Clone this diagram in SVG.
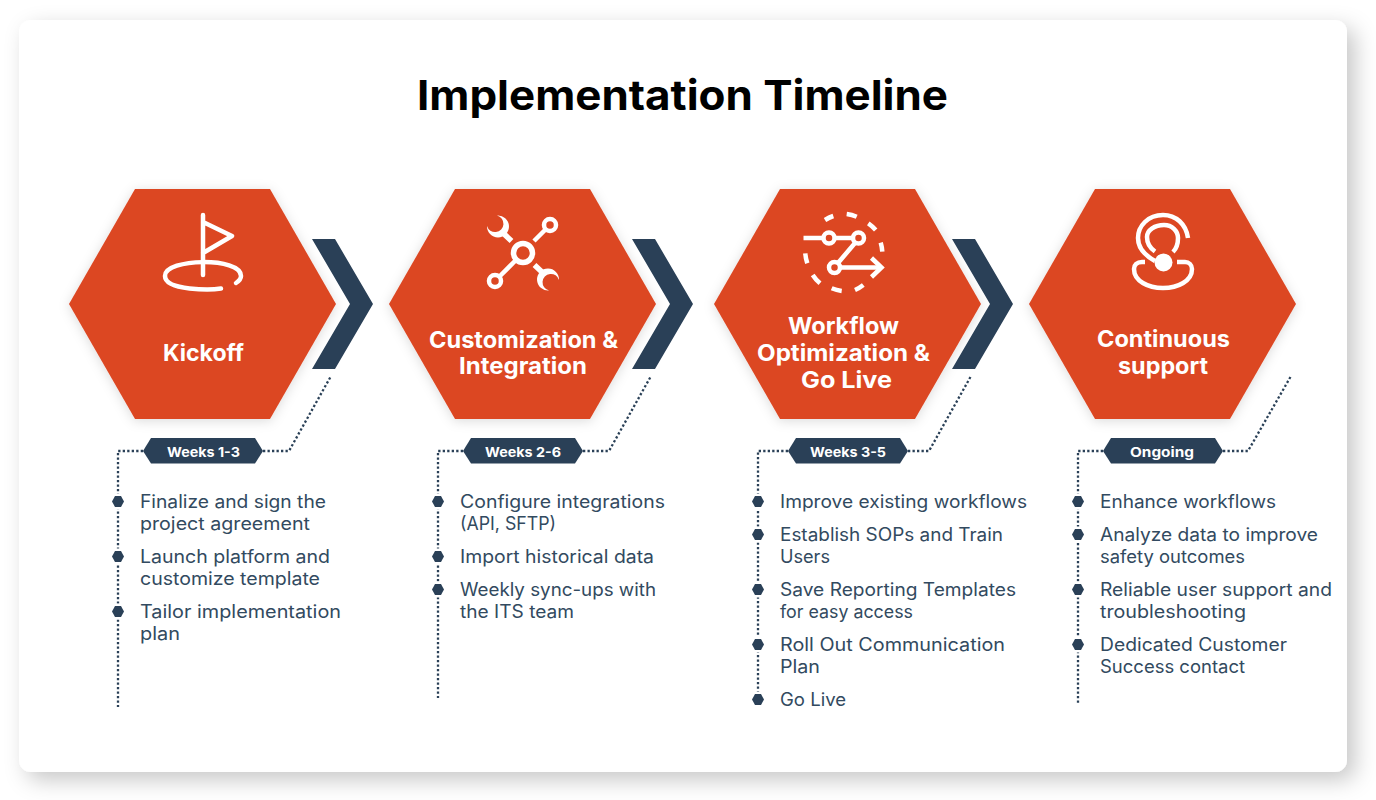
<svg xmlns="http://www.w3.org/2000/svg" width="1376" height="800" viewBox="0 0 1376 800">
<style>
text{font-family:Inter,"Open Sans","Liberation Sans",sans-serif}
.title{font-size:41px;font-weight:700;fill:#000}
.head{font-size:23px;font-weight:700;fill:#fff;text-anchor:start}
.badge{font-size:13.5px;font-weight:700;fill:#fff}
.body{font-size:18px;font-weight:400;fill:#324a60}
.hex{fill:#dc4723;filter:url(#hs)}
.chev,.bt{fill:#2a4057}
.bul{fill:#2a4057;stroke:#fff;stroke-width:5;paint-order:stroke}
.dot{fill:none;stroke:#2a4057;stroke-width:2.300;stroke-dasharray:2.300 2.200}
.ic{fill:none;stroke:#fff;stroke-width:4.500;stroke-linecap:round;stroke-linejoin:round}
.ib{fill:none;stroke:#fff;stroke-width:4.500;stroke-linecap:butt}
.ih{fill:none;stroke:#fff;stroke-width:5.500;stroke-linecap:butt}
</style>
<defs>
<filter id="cs" x="-5%" y="-5%" width="110%" height="110%"><feDropShadow dx="8" dy="8" stdDeviation="11" flood-color="#000" flood-opacity="0.22"/></filter>
<filter id="hs" x="-15%" y="-15%" width="130%" height="130%"><feDropShadow dx="0" dy="2" stdDeviation="6" flood-color="#000" flood-opacity="0.14"/></filter>
<polygon id="h" points="69,304 135,189 270,189 336,304 270,419 135,419"/>
<polygon id="c" points="312,239 335,239 373,304 335,369 312,369 350,304"/>
<polygon id="b" points="143,451 151,438 255,438 263,451 255,463.500 151,463.500"/>
<polygon id="d" points="112,501.500 115,496 121,496 124,501.500 121,507 115,507"/>
</defs>
<rect x="19" y="20" width="1328" height="752" rx="12" fill="#fff" filter="url(#cs)"/>
<text id="title" class="title" x="417" y="110" textLength="531" lengthAdjust="spacingAndGlyphs">Implementation Timeline</text>

<g id="connectors">
<path class="dot" d="M143 451H118V707M263 451H289L331 376"/>
<path class="dot" d="M463 451H438V698M583 451H609L651 376"/>
<path class="dot" d="M788 451H758V709M908 451H929L971 376"/>
<path class="dot" d="M1103 451H1078V703M1223 451H1248L1291 376"/>
</g>

<g id="node-kickoff">
<use href="#h" class="hex"/><use href="#c" class="chev"/>
<path class="ic" d="M203 215V275M203 222L232 236L203 253"/>
<path class="ic" d="M221 288.500C212 290 165 291 165 276C165 258 241 257 241 276C241 279 239 281 236 283"/>
<text class="head" x="163" y="361" textLength="81" lengthAdjust="spacingAndGlyphs">Kickoff</text>
<use href="#b" class="bt"/><text class="badge" x="167" y="457" textLength="73" lengthAdjust="spacingAndGlyphs">Weeks 1-3</text>
<use href="#d" class="bul"/><use href="#d" class="bul" y="55"/><use href="#d" class="bul" y="110"/>
<text class="body" x="140" y="507.500" textLength="186" lengthAdjust="spacingAndGlyphs">Finalize and sign the</text>
<text class="body" x="140" y="529.500" textLength="170" lengthAdjust="spacingAndGlyphs">project agreement</text>
<text class="body" x="140" y="562.500" textLength="190" lengthAdjust="spacingAndGlyphs">Launch platform and</text>
<text class="body" x="140" y="584.500" textLength="180" lengthAdjust="spacingAndGlyphs">customize template</text>
<text class="body" x="140" y="617.500" textLength="201" lengthAdjust="spacingAndGlyphs">Tailor implementation</text>
<text class="body" x="140" y="639.500" textLength="40" lengthAdjust="spacingAndGlyphs">plan</text>
</g>

<g id="node-customization">
<use href="#h" class="hex" x="320"/><use href="#c" class="chev" x="320"/>
<circle class="ih" cx="523" cy="253" r="9.500"/>
<circle class="ib" cx="495" cy="281" r="6"/><circle class="ib" cx="550" cy="225" r="6"/>
<path class="ib" d="M516 260L499 277M545.500 229.500L534 241"/>
<g id="wrenches" fill="#fff">
<path d="M497 215.500A11 11 0 1 1 487 226A8.400 8.400 0 1 0 497 215.500Z"/>
<path d="M549 290.500A11 11 0 1 1 559 280A8.400 8.400 0 1 0 549 290.500Z"/>
</g>
<path class="ih" d="M503 233L511.500 241M543 273L534.500 265"/>
<text class="head" x="429" y="347.500" textLength="189" lengthAdjust="spacingAndGlyphs">Customization &amp;</text>
<text class="head" x="459" y="374" textLength="128" lengthAdjust="spacingAndGlyphs">Integration</text>
<use href="#b" class="bt" x="320"/><text class="badge" x="485" y="457" textLength="76" lengthAdjust="spacingAndGlyphs">Weeks 2-6</text>
<use href="#d" class="bul" x="320"/><use href="#d" class="bul" x="320" y="55"/><use href="#d" class="bul" x="320" y="88"/>
<text class="body" x="460" y="507.500" textLength="205" lengthAdjust="spacingAndGlyphs">Configure integrations</text>
<text class="body" x="460" y="529.500" textLength="96" lengthAdjust="spacingAndGlyphs">(API, SFTP)</text>
<text class="body" x="460" y="562.500" textLength="194" lengthAdjust="spacingAndGlyphs">Import historical data</text>
<text class="body" x="460" y="595.500" textLength="196" lengthAdjust="spacingAndGlyphs">Weekly sync-ups with</text>
<text class="body" x="460" y="617.500" textLength="114" lengthAdjust="spacingAndGlyphs">the ITS team</text>
</g>

<g id="node-workflow">
<use href="#h" class="hex" x="645"/><use href="#c" class="chev" x="640"/>
<path class="ib" d="M825 220A38 38 0 0 1 833.300 216M846.700 214A38 38 0 0 1 856.700 216.700M868.300 223.300A38 38 0 0 1 875.700 230M880.700 242.700A38 38 0 0 1 882.300 251.700M807.300 263.300A38 38 0 0 1 805.300 253.300M820 283.300A38 38 0 0 1 812.700 275M841.700 291A38 38 0 0 1 831.700 288.300M863.300 285A38 38 0 0 1 855 290"/>
<circle class="ib" cx="829" cy="238" r="5.500"/><circle class="ib" cx="858.500" cy="238" r="5.500"/><circle class="ib" cx="834.500" cy="267.500" r="5.500"/>
<path class="ib" d="M803.500 238H823.500M834.500 238H853M855 243L838 263M840 267.500H881"/>
<path class="ib" d="M871.500 258L881.500 267.500L871.500 277"/>
<text class="head" x="788" y="334" textLength="111" lengthAdjust="spacingAndGlyphs">Workflow</text>
<text class="head" x="757" y="361" textLength="173" lengthAdjust="spacingAndGlyphs">Optimization &amp;</text>
<text class="head" x="801" y="388" textLength="91" lengthAdjust="spacingAndGlyphs">Go Live</text>
<use href="#b" class="bt" x="645"/><text class="badge" x="810" y="457" textLength="76" lengthAdjust="spacingAndGlyphs">Weeks 3-5</text>
<use href="#d" class="bul" x="640"/><use href="#d" class="bul" x="640" y="33"/><use href="#d" class="bul" x="640" y="88"/><use href="#d" class="bul" x="640" y="143"/><use href="#d" class="bul" x="640" y="198"/>
<text class="body" x="780" y="507.500" textLength="247" lengthAdjust="spacingAndGlyphs">Improve existing workflows</text>
<text class="body" x="780" y="540.500" textLength="223" lengthAdjust="spacingAndGlyphs">Establish SOPs and Train</text>
<text class="body" x="780" y="562.500" textLength="50" lengthAdjust="spacingAndGlyphs">Users</text>
<text class="body" x="780" y="595.500" textLength="236" lengthAdjust="spacingAndGlyphs">Save Reporting Templates</text>
<text class="body" x="780" y="617.500" textLength="133" lengthAdjust="spacingAndGlyphs">for easy access</text>
<text class="body" x="780" y="650.500" textLength="225" lengthAdjust="spacingAndGlyphs">Roll Out Communication</text>
<text class="body" x="780" y="672.500" textLength="40" lengthAdjust="spacingAndGlyphs">Plan</text>
<text class="body" x="780" y="705.500" textLength="66" lengthAdjust="spacingAndGlyphs">Go Live</text>
</g>

<g id="node-support">
<use href="#h" class="hex" x="960"/>
<path class="ib" d="M1188 238C1186 224 1176 215 1163 215C1148 215 1138 226 1138 238C1138 248 1146 256 1155 261"/>
<path class="ib" d="M1155 251.500C1150 248 1147 243 1147 237C1147 230 1155 225 1164 225C1172 225 1178 231 1178 238C1178 244 1176 249 1173 252"/>
<circle cx="1163.500" cy="262.500" r="9" fill="#fff"/>
<path class="ib" d="M1145 262H1142C1137 262 1134 265 1134 269C1134 281 1148 288 1163 288C1178 288 1192 281 1192 269C1192 265 1189 262 1185 262H1177"/>
<text class="head" x="1097" y="347" textLength="133" lengthAdjust="spacingAndGlyphs">Continuous</text>
<text class="head" x="1118" y="373.500" textLength="90" lengthAdjust="spacingAndGlyphs">support</text>
<use href="#b" class="bt" x="960"/><text class="badge" x="1130" y="457" textLength="64" lengthAdjust="spacingAndGlyphs">Ongoing</text>
<use href="#d" class="bul" x="960"/><use href="#d" class="bul" x="960" y="33"/><use href="#d" class="bul" x="960" y="88"/><use href="#d" class="bul" x="960" y="143"/>
<text class="body" x="1100" y="507.500" textLength="176" lengthAdjust="spacingAndGlyphs">Enhance workflows</text>
<text class="body" x="1100" y="540.500" textLength="218" lengthAdjust="spacingAndGlyphs">Analyze data to improve</text>
<text class="body" x="1100" y="562.500" textLength="145" lengthAdjust="spacingAndGlyphs">safety outcomes</text>
<text class="body" x="1100" y="595.500" textLength="232" lengthAdjust="spacingAndGlyphs">Reliable user support and</text>
<text class="body" x="1100" y="617.500" textLength="146" lengthAdjust="spacingAndGlyphs">troubleshooting</text>
<text class="body" x="1100" y="650.500" textLength="187" lengthAdjust="spacingAndGlyphs">Dedicated Customer</text>
<text class="body" x="1100" y="672.500" textLength="145" lengthAdjust="spacingAndGlyphs">Success contact</text>
</g>
</svg>
